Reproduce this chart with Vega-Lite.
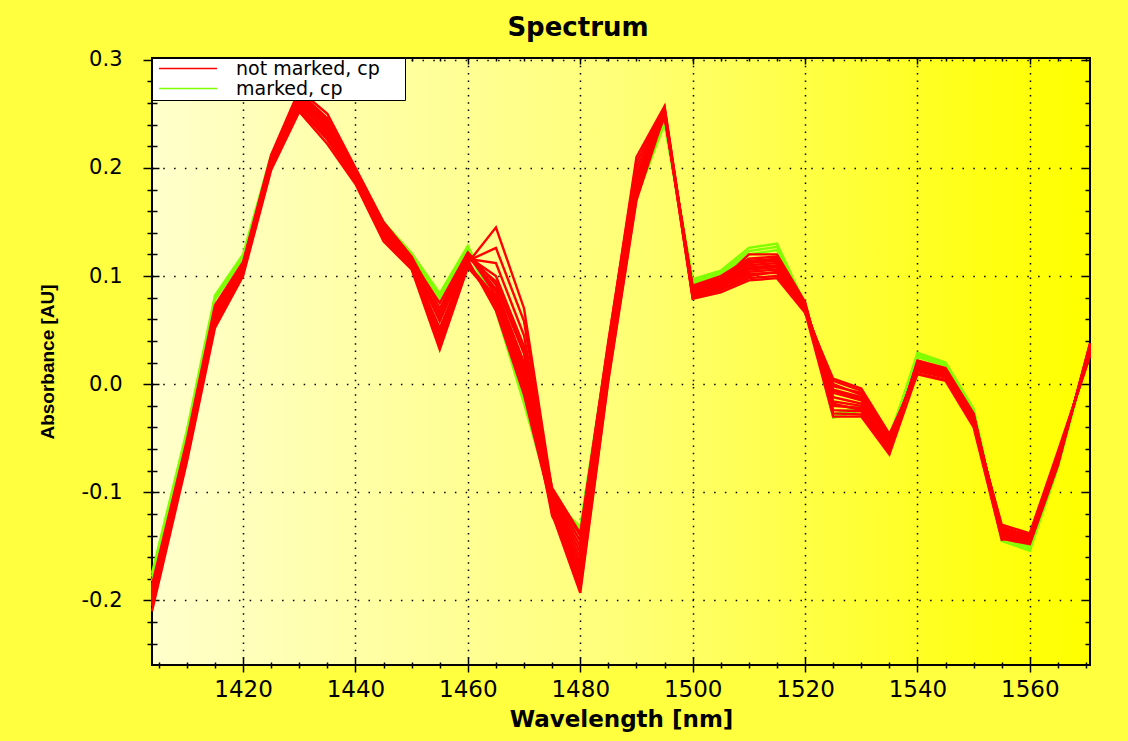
{
  "$schema": "https://vega.github.io/schema/vega-lite/v6.json",
  "width": 938,
  "height": 607,
  "autosize": {"type": "none"},
  "padding": {"left": 152, "top": 58, "right": 38, "bottom": 76},
  "background": "#ffff40",
  "title": {
    "text": "Spectrum",
    "font": "DejaVu Sans",
    "fontSize": 26,
    "fontWeight": "bold",
    "color": "#000000",
    "anchor": "middle",
    "dx": -43,
    "offset": -13,
    "baseline": "alphabetic"
  },
  "config": {
    "view": {
      "fill": {
        "gradient": "linear",
        "x1": 0, "y1": 0, "x2": 1, "y2": 0,
        "stops": [
          {"offset": 0, "color": "#ffffcc"},
          {"offset": 0.5, "color": "#ffff78"},
          {"offset": 0.9, "color": "#ffff10"},
          {"offset": 1, "color": "#ffff00"}
        ]
      },
      "stroke": "#000000",
      "strokeWidth": 2
    },
    "axis": {"domain": false, "tickColor": "#000000", "tickWidth": 1.5, "labelColor": "#000000", "titleColor": "#000000"}
  },
  "datasets": {
    "notMarked": [
      {"w": 1403.8, "r1": -0.205, "r2": -0.2, "r3": -0.198, "r4": -0.192, "r5": -0.188, "r6": -0.186, "r7": -0.21, "r8": -0.203, "r9": -0.196, "r10": -0.19, "r11": -0.2, "r12": -0.194, "r13": -0.199, "r14": -0.191},
      {"w": 1410, "r1": -0.07, "r2": -0.065, "r3": -0.062, "r4": -0.058, "r5": -0.055, "r6": -0.052, "r7": -0.072, "r8": -0.068, "r9": -0.06, "r10": -0.056, "r11": -0.064, "r12": -0.059, "r13": -0.063, "r14": -0.057},
      {"w": 1415, "r1": 0.055, "r2": 0.06, "r3": 0.062, "r4": 0.066, "r5": 0.07, "r6": 0.073, "r7": 0.052, "r8": 0.058, "r9": 0.064, "r10": 0.068, "r11": 0.061, "r12": 0.065, "r13": 0.06, "r14": 0.067},
      {"w": 1420, "r1": 0.102, "r2": 0.105, "r3": 0.107, "r4": 0.109, "r5": 0.111, "r6": 0.113, "r7": 0.1, "r8": 0.103, "r9": 0.106, "r10": 0.11, "r11": 0.104, "r12": 0.108, "r13": 0.105, "r14": 0.11},
      {"w": 1425, "r1": 0.2, "r2": 0.203, "r3": 0.205, "r4": 0.207, "r5": 0.21, "r6": 0.212, "r7": 0.198, "r8": 0.201, "r9": 0.204, "r10": 0.208, "r11": 0.202, "r12": 0.206, "r13": 0.203, "r14": 0.209},
      {"w": 1430, "r1": 0.255, "r2": 0.26, "r3": 0.262, "r4": 0.265, "r5": 0.27, "r6": 0.272, "r7": 0.252, "r8": 0.254, "r9": 0.256, "r10": 0.258, "r11": 0.263, "r12": 0.266, "r13": 0.259, "r14": 0.268},
      {"w": 1435, "r1": 0.228, "r2": 0.232, "r3": 0.236, "r4": 0.24, "r5": 0.246, "r6": 0.25, "r7": 0.222, "r8": 0.226, "r9": 0.23, "r10": 0.234, "r11": 0.238, "r12": 0.242, "r13": 0.233, "r14": 0.244},
      {"w": 1440, "r1": 0.188, "r2": 0.19, "r3": 0.192, "r4": 0.194, "r5": 0.197, "r6": 0.2, "r7": 0.185, "r8": 0.187, "r9": 0.189, "r10": 0.191, "r11": 0.193, "r12": 0.195, "r13": 0.19, "r14": 0.196},
      {"w": 1445, "r1": 0.138, "r2": 0.14, "r3": 0.143, "r4": 0.146, "r5": 0.148, "r6": 0.15, "r7": 0.132, "r8": 0.135, "r9": 0.138, "r10": 0.142, "r11": 0.144, "r12": 0.147, "r13": 0.141, "r14": 0.149},
      {"w": 1450, "r1": 0.108, "r2": 0.11, "r3": 0.112, "r4": 0.114, "r5": 0.116, "r6": 0.118, "r7": 0.106, "r8": 0.107, "r9": 0.109, "r10": 0.111, "r11": 0.113, "r12": 0.115, "r13": 0.11, "r14": 0.117},
      {"w": 1455, "r1": 0.035, "r2": 0.042, "r3": 0.05, "r4": 0.058, "r5": 0.064, "r6": 0.07, "r7": 0.032, "r8": 0.045, "r9": 0.052, "r10": 0.06, "r11": 0.066, "r12": 0.075, "r13": 0.048, "r14": 0.038},
      {"w": 1460, "r1": 0.112, "r2": 0.114, "r3": 0.116, "r4": 0.118, "r5": 0.12, "r6": 0.121, "r7": 0.108, "r8": 0.11, "r9": 0.113, "r10": 0.115, "r11": 0.119, "r12": 0.122, "r13": 0.117, "r14": 0.111},
      {"w": 1465, "r1": 0.145, "r2": 0.126, "r3": 0.112, "r4": 0.1, "r5": 0.088, "r6": 0.082, "r7": 0.078, "r8": 0.075, "r9": 0.072, "r10": 0.068, "r11": 0.086, "r12": 0.092, "r13": 0.095, "r14": 0.08},
      {"w": 1470, "r1": 0.07, "r2": 0.058, "r3": 0.045, "r4": 0.035, "r5": 0.02, "r6": 0.012, "r7": 0.005, "r8": 0.0, "r9": -0.005, "r10": -0.01, "r11": 0.015, "r12": 0.028, "r13": 0.03, "r14": 0.01},
      {"w": 1475, "r1": -0.098, "r2": -0.1, "r3": -0.102, "r4": -0.104, "r5": -0.106, "r6": -0.108, "r7": -0.11, "r8": -0.112, "r9": -0.114, "r10": -0.116, "r11": -0.118, "r12": -0.12, "r13": -0.096, "r14": -0.122},
      {"w": 1480, "r1": -0.14, "r2": -0.145, "r3": -0.15, "r4": -0.155, "r5": -0.16, "r6": -0.165, "r7": -0.17, "r8": -0.175, "r9": -0.18, "r10": -0.185, "r11": -0.19, "r12": -0.193, "r13": -0.138, "r14": -0.168},
      {"w": 1485, "r1": 0.04, "r2": 0.035, "r3": 0.03, "r4": 0.028, "r5": 0.025, "r6": 0.022, "r7": 0.02, "r8": 0.015, "r9": 0.012, "r10": 0.008, "r11": 0.005, "r12": 0.003, "r13": 0.038, "r14": 0.018},
      {"w": 1490, "r1": 0.205, "r2": 0.2, "r3": 0.195, "r4": 0.192, "r5": 0.19, "r6": 0.185, "r7": 0.182, "r8": 0.18, "r9": 0.178, "r10": 0.175, "r11": 0.172, "r12": 0.17, "r13": 0.21, "r14": 0.188},
      {"w": 1495, "r1": 0.256, "r2": 0.254, "r3": 0.252, "r4": 0.25, "r5": 0.249, "r6": 0.248, "r7": 0.247, "r8": 0.252, "r9": 0.254, "r10": 0.253, "r11": 0.251, "r12": 0.25, "r13": 0.257, "r14": 0.249},
      {"w": 1500, "r1": 0.082, "r2": 0.084, "r3": 0.086, "r4": 0.088, "r5": 0.089, "r6": 0.09, "r7": 0.091, "r8": 0.086, "r9": 0.083, "r10": 0.08, "r11": 0.079, "r12": 0.081, "r13": 0.085, "r14": 0.087},
      {"w": 1505, "r1": 0.088, "r2": 0.09, "r3": 0.092, "r4": 0.094, "r5": 0.096, "r6": 0.098, "r7": 0.1, "r8": 0.095, "r9": 0.093, "r10": 0.087, "r11": 0.085, "r12": 0.09, "r13": 0.091, "r14": 0.097},
      {"w": 1510, "r1": 0.1, "r2": 0.104, "r3": 0.107, "r4": 0.11, "r5": 0.112, "r6": 0.114, "r7": 0.116, "r8": 0.12, "r9": 0.108, "r10": 0.098, "r11": 0.096, "r12": 0.102, "r13": 0.106, "r14": 0.113},
      {"w": 1515, "r1": 0.104, "r2": 0.106, "r3": 0.109, "r4": 0.112, "r5": 0.114, "r6": 0.116, "r7": 0.118, "r8": 0.12, "r9": 0.11, "r10": 0.1, "r11": 0.098, "r12": 0.103, "r13": 0.108, "r14": 0.115},
      {"w": 1520, "r1": 0.068, "r2": 0.07, "r3": 0.071, "r4": 0.072, "r5": 0.073, "r6": 0.074, "r7": 0.075, "r8": 0.076, "r9": 0.07, "r10": 0.067, "r11": 0.066, "r12": 0.069, "r13": 0.071, "r14": 0.073},
      {"w": 1525, "r1": 0.003, "r2": 0.0, "r3": -0.005, "r4": -0.008, "r5": -0.012, "r6": -0.016, "r7": -0.02, "r8": -0.024, "r9": -0.027, "r10": -0.03, "r11": 0.005, "r12": -0.002, "r13": -0.006, "r14": -0.018},
      {"w": 1530, "r1": -0.006, "r2": -0.01, "r3": -0.012, "r4": -0.015, "r5": -0.018, "r6": -0.02, "r7": -0.022, "r8": -0.025, "r9": -0.028, "r10": -0.03, "r11": -0.004, "r12": -0.008, "r13": -0.014, "r14": -0.024},
      {"w": 1535, "r1": -0.048, "r2": -0.05, "r3": -0.052, "r4": -0.054, "r5": -0.056, "r6": -0.058, "r7": -0.06, "r8": -0.062, "r9": -0.064, "r10": -0.065, "r11": -0.046, "r12": -0.05, "r13": -0.053, "r14": -0.059},
      {"w": 1540, "r1": 0.012, "r2": 0.014, "r3": 0.016, "r4": 0.017, "r5": 0.018, "r6": 0.019, "r7": 0.02, "r8": 0.021, "r9": 0.022, "r10": 0.01, "r11": 0.009, "r12": 0.013, "r13": 0.015, "r14": 0.02},
      {"w": 1545, "r1": 0.006, "r2": 0.008, "r3": 0.009, "r4": 0.01, "r5": 0.011, "r6": 0.012, "r7": 0.013, "r8": 0.014, "r9": 0.015, "r10": 0.004, "r11": 0.003, "r12": 0.007, "r13": 0.008, "r14": 0.012},
      {"w": 1550, "r1": -0.036, "r2": -0.034, "r3": -0.033, "r4": -0.032, "r5": -0.031, "r6": -0.03, "r7": -0.029, "r8": -0.028, "r9": -0.027, "r10": -0.038, "r11": -0.04, "r12": -0.035, "r13": -0.034, "r14": -0.03},
      {"w": 1555, "r1": -0.13, "r2": -0.132, "r3": -0.134, "r4": -0.135, "r5": -0.136, "r6": -0.137, "r7": -0.138, "r8": -0.14, "r9": -0.142, "r10": -0.143, "r11": -0.144, "r12": -0.139, "r13": -0.133, "r14": -0.137},
      {"w": 1560, "r1": -0.138, "r2": -0.14, "r3": -0.141, "r4": -0.142, "r5": -0.143, "r6": -0.144, "r7": -0.145, "r8": -0.146, "r9": -0.147, "r10": -0.148, "r11": -0.138, "r12": -0.14, "r13": -0.141, "r14": -0.145},
      {"w": 1565, "r1": -0.065, "r2": -0.067, "r3": -0.068, "r4": -0.069, "r5": -0.07, "r6": -0.071, "r7": -0.072, "r8": -0.073, "r9": -0.074, "r10": -0.075, "r11": -0.062, "r12": -0.064, "r13": -0.068, "r14": -0.071},
      {"w": 1570.7, "r1": 0.028, "r2": 0.03, "r3": 0.031, "r4": 0.032, "r5": 0.033, "r6": 0.034, "r7": 0.035, "r8": 0.036, "r9": 0.037, "r10": 0.038, "r11": 0.026, "r12": 0.027, "r13": 0.03, "r14": 0.034}
    ],
    "marked": [
      {"w": 1403.8, "g1": -0.178, "g2": -0.182, "g3": -0.175},
      {"w": 1410, "g1": -0.045, "g2": -0.048, "g3": -0.043},
      {"w": 1415, "g1": 0.08, "g2": 0.078, "g3": 0.082},
      {"w": 1420, "g1": 0.118, "g2": 0.116, "g3": 0.12},
      {"w": 1425, "g1": 0.21, "g2": 0.208, "g3": 0.212},
      {"w": 1430, "g1": 0.262, "g2": 0.259, "g3": 0.264},
      {"w": 1435, "g1": 0.238, "g2": 0.235, "g3": 0.24},
      {"w": 1440, "g1": 0.197, "g2": 0.195, "g3": 0.199},
      {"w": 1445, "g1": 0.148, "g2": 0.146, "g3": 0.15},
      {"w": 1450, "g1": 0.12, "g2": 0.118, "g3": 0.121},
      {"w": 1455, "g1": 0.082, "g2": 0.079, "g3": 0.084},
      {"w": 1460, "g1": 0.126, "g2": 0.124, "g3": 0.128},
      {"w": 1465, "g1": 0.071, "g2": 0.068, "g3": 0.073},
      {"w": 1470, "g1": -0.015, "g2": -0.018, "g3": -0.012},
      {"w": 1475, "g1": -0.108, "g2": -0.11, "g3": -0.106},
      {"w": 1480, "g1": -0.135, "g2": -0.138, "g3": -0.132},
      {"w": 1485, "g1": 0.035, "g2": 0.033, "g3": 0.037},
      {"w": 1490, "g1": 0.175, "g2": 0.172, "g3": 0.178},
      {"w": 1495, "g1": 0.243, "g2": 0.241, "g3": 0.245},
      {"w": 1500, "g1": 0.095, "g2": 0.093, "g3": 0.097},
      {"w": 1505, "g1": 0.103, "g2": 0.101, "g3": 0.105},
      {"w": 1510, "g1": 0.123, "g2": 0.12, "g3": 0.126},
      {"w": 1515, "g1": 0.127, "g2": 0.124, "g3": 0.13},
      {"w": 1520, "g1": 0.073, "g2": 0.072, "g3": 0.074},
      {"w": 1525, "g1": -0.03, "g2": -0.028, "g3": -0.031},
      {"w": 1530, "g1": -0.022, "g2": -0.02, "g3": -0.024},
      {"w": 1535, "g1": -0.05, "g2": -0.048, "g3": -0.052},
      {"w": 1540, "g1": 0.027, "g2": 0.025, "g3": 0.029},
      {"w": 1545, "g1": 0.018, "g2": 0.017, "g3": 0.02},
      {"w": 1550, "g1": -0.025, "g2": -0.027, "g3": -0.023},
      {"w": 1555, "g1": -0.142, "g2": -0.145, "g3": -0.14},
      {"w": 1560, "g1": -0.152, "g2": -0.154, "g3": -0.15},
      {"w": 1565, "g1": -0.075, "g2": -0.077, "g3": -0.073},
      {"w": 1570.7, "g1": 0.035, "g2": 0.033, "g3": 0.037}
    ]
  },
  "layer": [
    {
      "mark": {"type": "rule", "color": "#000000", "strokeWidth": 1.5},
      "encoding": {
        "x": {
          "datum": 1403.8, "type": "quantitative",
          "scale": {"domain": [1403.8, 1570.7], "nice": false, "zero": false},
          "axis": {
            "orient": "top", "labels": false, "grid": false, "title": null,
            "values": [1405,1410,1415,1420,1425,1430,1435,1440,1445,1450,1455,1460,1465,1470,1475,1480,1485,1490,1495,1500,1505,1510,1515,1520,1525,1530,1535,1540,1545,1550,1555,1560,1565,1570],
            "tickSize": {"condition": {"test": "datum.value % 20 === 0", "value": -6}, "value": -3}
          }
        },
        "x2": {"datum": 1570.7},
        "y": {
          "datum": 0, "type": "quantitative",
          "scale": {"domain": [-0.2597, 0.3016], "nice": false, "zero": false},
          "axis": {
            "orient": "right", "labels": false, "grid": false, "title": null,
            "values": [-0.24,-0.22,-0.2,-0.18,-0.16,-0.14,-0.12,-0.1,-0.08,-0.06,-0.04,-0.02,0,0.02,0.04,0.06,0.08,0.1,0.12,0.14,0.16,0.18,0.2,0.22,0.24,0.26,0.28,0.3],
            "tickSize": {"condition": {"test": "abs(datum.value * 10 - round(datum.value * 10)) < 0.001", "value": -8}, "value": -5}
          }
        }
      }
    },
    {
      "data": {"name": "marked"},
      "transform": [{"fold": ["g1", "g2", "g3"], "as": ["curve", "absorbance"]}],
      "mark": {"type": "line", "strokeWidth": 2.4},
      "encoding": {
        "x": {
          "field": "w", "type": "quantitative",
          "scale": {"domain": [1403.8, 1570.7], "nice": false, "zero": false},
          "axis": {
            "orient": "bottom",
            "values": [1405,1410,1415,1420,1425,1430,1435,1440,1445,1450,1455,1460,1465,1470,1475,1480,1485,1490,1495,1500,1505,1510,1515,1520,1525,1530,1535,1540,1545,1550,1555,1560,1565,1570],
            "format": "d",
            "labelExpr": "datum.value % 20 === 0 ? datum.label : ''",
            "labelFont": "DejaVu Sans", "labelFontSize": 23,
            "labelBaseline": "alphabetic", "labelPadding": 24.7,
            "labelFlush": false, "labelOverlap": false,
            "tickSize": {"condition": {"test": "datum.value % 20 === 0", "value": 7}, "value": 3},
            "grid": true, "gridColor": "#000000", "gridWidth": 1.5, "gridDash": [1.5, 5.8],
            "gridOpacity": {"condition": {"test": "datum.value % 20 === 0", "value": 1}, "value": 0},
            "title": "Wavelength [nm]",
            "titleFont": "DejaVu Sans", "titleFontSize": 23, "titleFontWeight": "bold",
            "titleBaseline": "alphabetic", "titleY": 61
          }
        },
        "y": {
          "field": "absorbance", "type": "quantitative",
          "scale": {"domain": [-0.2597, 0.3016], "nice": false, "zero": false},
          "axis": {
            "orient": "left",
            "values": [-0.24,-0.22,-0.2,-0.18,-0.16,-0.14,-0.12,-0.1,-0.08,-0.06,-0.04,-0.02,0,0.02,0.04,0.06,0.08,0.1,0.12,0.14,0.16,0.18,0.2,0.22,0.24,0.26,0.28,0.3],
            "labelExpr": "abs(datum.value * 10 - round(datum.value * 10)) < 0.001 ? replace(format(datum.value, '.1f'), '\u2212', '-') : ''",
            "labelFont": "DejaVu Sans", "labelFontSize": 21, "labelPadding": 21,
            "labelOverlap": false, "labelFlush": false,
            "tickSize": {"condition": {"test": "abs(datum.value * 10 - round(datum.value * 10)) < 0.001", "value": 9}, "value": 5},
            "grid": true, "gridColor": "#000000", "gridWidth": 1.5, "gridDash": [1.5, 9.3],
            "gridOpacity": {"condition": {"test": "abs(datum.value * 10 - round(datum.value * 10)) < 0.001", "value": 1}, "value": 0},
            "title": "Absorbance [AU]",
            "titleFont": "Liberation Sans", "titleFontSize": 19, "titleFontWeight": "bold",
            "titleBaseline": "alphabetic", "titleX": -99
          }
        },
        "detail": {"field": "curve"},
        "color": {
          "datum": "marked, cp", "type": "nominal",
          "scale": {"domain": ["not marked, cp", "marked, cp"], "range": ["#ff0000", "#80ff00"]},
          "legend": {
            "orient": "none", "legendX": 0, "legendY": 0, "title": null,
            "fillColor": "#ffffff", "strokeColor": "#000000", "padding": 1,
            "symbolType": "M-0.41,0H6.41", "symbolSize": 289, "symbolStrokeWidth": 1.5,
            "labelFont": "DejaVu Sans", "labelFontSize": 19, "labelColor": "#000000",
            "labelOffset": 64, "rowPadding": 0, "labelLimit": 0,
            "labelExpr": "datum.label + '\u00a0\u00a0\u00a0\u00a0\u200b'"
          }
        }
      }
    },
    {
      "data": {"name": "notMarked"},
      "transform": [{"fold": ["r1","r2","r3","r4","r5","r6","r7","r8","r9","r10","r11","r12","r13","r14"], "as": ["curve", "absorbance"]}],
      "mark": {"type": "line", "strokeWidth": 2.4},
      "encoding": {
        "x": {
          "field": "w", "type": "quantitative",
          "scale": {"domain": [1403.8, 1570.7], "nice": false, "zero": false},
          "axis": {
            "orient": "bottom", "labels": false, "grid": false, "title": null,
            "values": [1405,1410,1415,1420,1425,1430,1435,1440,1445,1450,1455,1460,1465,1470,1475,1480,1485,1490,1495,1500,1505,1510,1515,1520,1525,1530,1535,1540,1545,1550,1555,1560,1565,1570],
            "tickSize": {"condition": {"test": "datum.value % 20 === 0", "value": -8}, "value": -3}
          }
        },
        "y": {
          "field": "absorbance", "type": "quantitative",
          "scale": {"domain": [-0.2597, 0.3016], "nice": false, "zero": false},
          "axis": {
            "orient": "left", "labels": false, "grid": false, "title": null,
            "values": [-0.24,-0.22,-0.2,-0.18,-0.16,-0.14,-0.12,-0.1,-0.08,-0.06,-0.04,-0.02,0,0.02,0.04,0.06,0.08,0.1,0.12,0.14,0.16,0.18,0.2,0.22,0.24,0.26,0.28,0.3],
            "tickSize": {"condition": {"test": "abs(datum.value * 10 - round(datum.value * 10)) < 0.001", "value": -7}, "value": -5}
          }
        },
        "detail": {"field": "curve"},
        "color": {
          "datum": "not marked, cp", "type": "nominal",
          "scale": {"domain": ["not marked, cp", "marked, cp"], "range": ["#ff0000", "#80ff00"]}
        }
      }
    }
  ],
  "resolve": {"scale": {"x": "independent", "y": "independent"}}
}
